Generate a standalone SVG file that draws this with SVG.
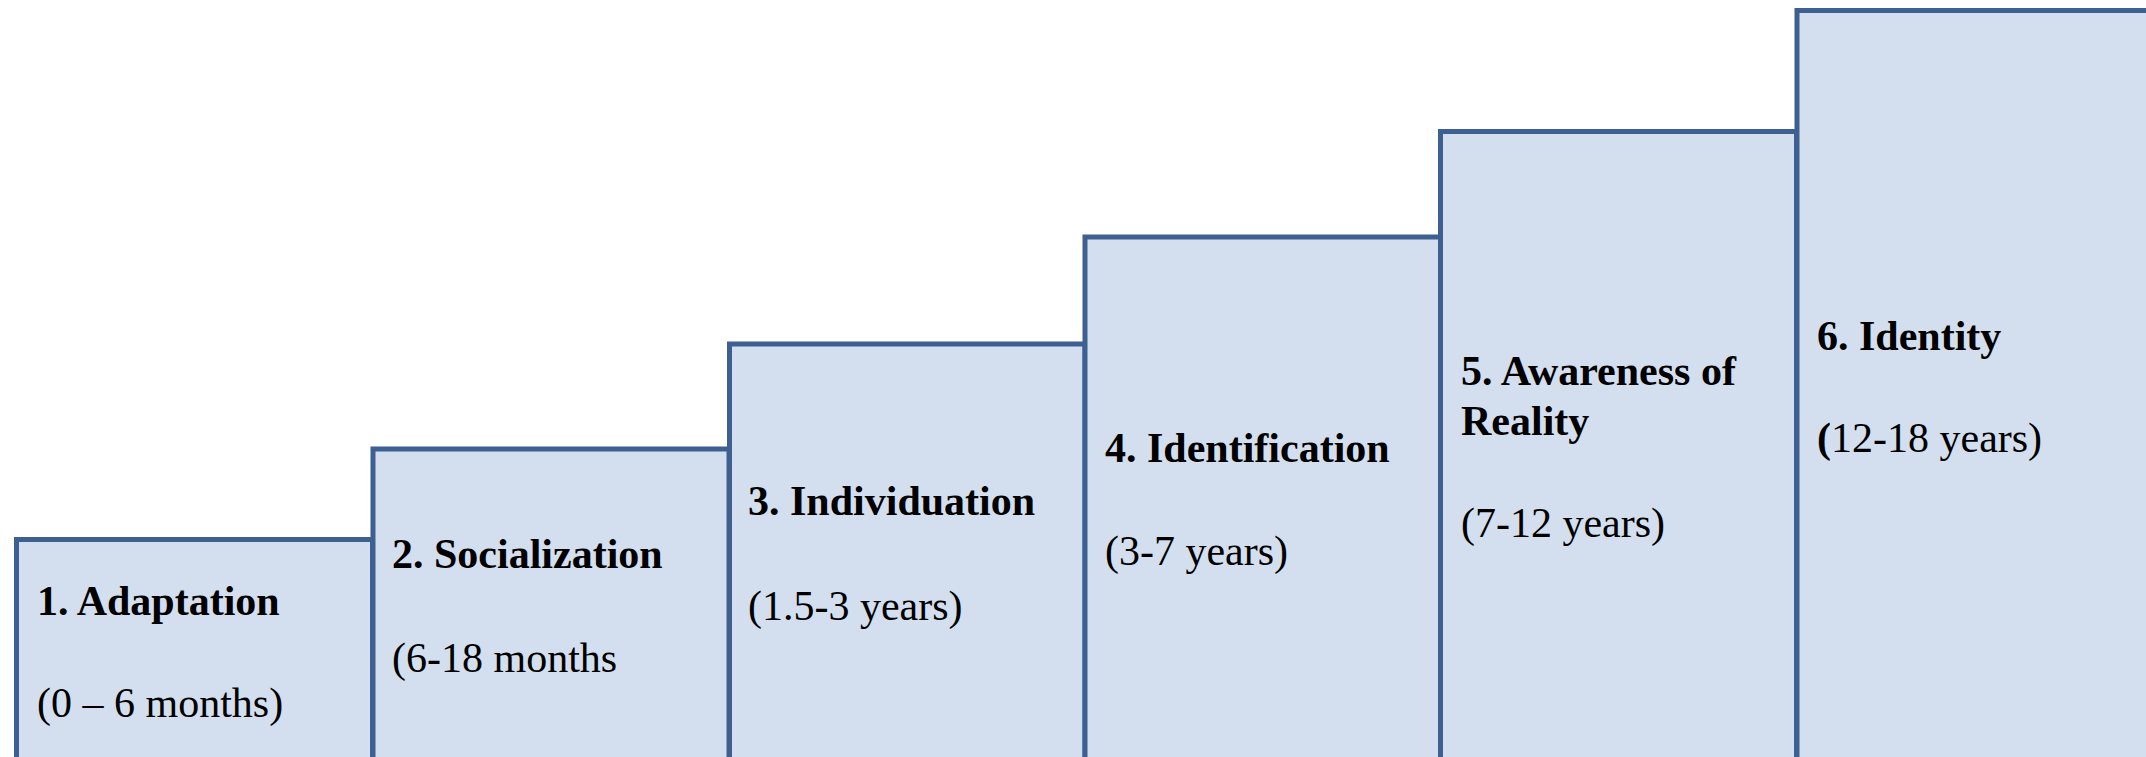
<svg xmlns="http://www.w3.org/2000/svg" width="2146" height="757" viewBox="0 0 2146 757">
<style>
.box{fill:#D3DFEE;stroke:#3D6091;stroke-width:5}
.t{font-family:"Liberation Serif","Times New Roman",serif;font-size:42px;fill:#000}
.b{font-weight:bold}
</style>
<rect width="2146" height="757" fill="#FFFFFF"/>
<g id="step1">
<rect class="box" x="16.5" y="539.5" width="356" height="300"/>
<text class="t b" x="37" y="615">1. Adaptation</text>
<text class="t" x="37" y="717">(0 – 6 months)</text>
</g>
<g id="step2">
<rect class="box" x="373" y="449" width="356" height="400"/>
<text class="t b" x="392" y="568">2. Socialization</text>
<text class="t" x="392" y="672">(6-18 months</text>
</g>
<g id="step3">
<rect class="box" x="729.5" y="344" width="355.5" height="500"/>
<text class="t b" x="748" y="515">3. Individuation</text>
<text class="t" x="748" y="620">(1.5-3 years)</text>
</g>
<g id="step4">
<rect class="box" x="1085" y="237" width="356" height="600"/>
<text class="t b" x="1105" y="462">4. Identification</text>
<text class="t" x="1105" y="565">(3-7 years)</text>
</g>
<g id="step5">
<rect class="box" x="1440.5" y="131.5" width="356" height="700"/>
<text class="t b" x="1461" y="385">5. Awareness of</text>
<text class="t b" x="1461" y="435">Reality</text>
<text class="t" x="1461" y="537">(7-12 years)</text>
</g>
<g id="step6">
<rect class="box" x="1797" y="10.5" width="420" height="800"/>
<text class="t b" x="1817" y="350">6. Identity</text>
<text class="t" x="1817" y="452"><tspan class="b">(</tspan>12-18 years)</text>
</g>
<g id="connectors"></g>
</svg>
